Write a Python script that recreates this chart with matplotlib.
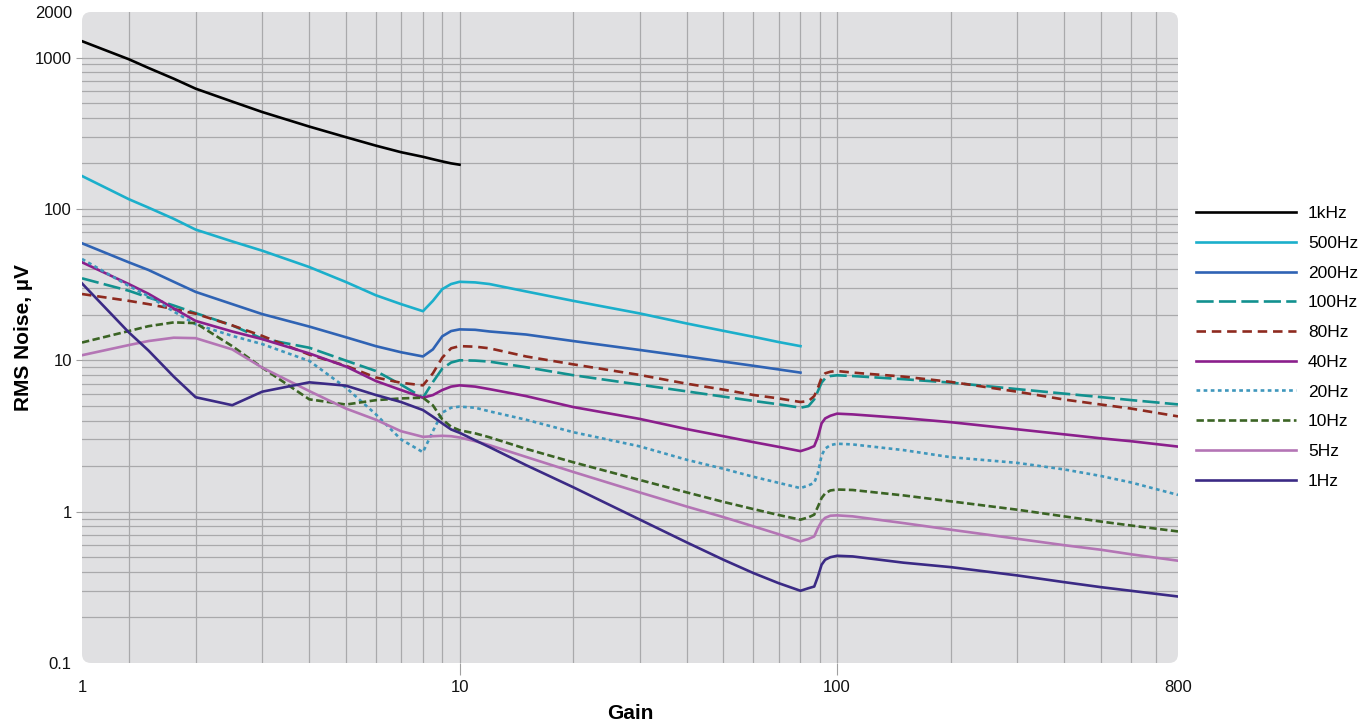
import numpy as np
import matplotlib
matplotlib.use("Agg")
import matplotlib.pyplot as plt
from matplotlib.patches import FancyBboxPatch
from matplotlib.ticker import FixedLocator, NullFormatter, FixedFormatter

plt.rcParams['font.family'] = ['Liberation Sans', 'DejaVu Sans']

nan = np.nan
gain = [1, 1.33, 1.5, 1.75, 2, 2.5, 3, 4, 5, 6, 7, 8, 8.5, 9, 9.5, 10, 11, 12, 15, 20, 30, 40,
        50, 60, 70, 80, 84, 87, 89, 91, 93, 96, 100, 110, 150, 200, 300, 400, 500, 600, 800]

noise_1k = [1283, 975, 854, 725, 623, 512, 437, 350, 298, 262, 237, 221, 213, 206, 200, 196] + [nan] * 25
noise_500 = [165, 116, 102, 86, 73, 61, 53, 41.3, 32.9, 26.9, 23.5, 21.1, 24.7, 29.5, 31.9, 33, 32.7,
             31.9, 28.5, 24.7, 20.4, 17.5, 15.65, 14.3, 13.2, 12.4] + [nan] * 15
noise_200 = [59.3, 44.4, 39.5, 33, 28.3, 23.5, 20.2, 16.7, 14.2, 12.4, 11.3, 10.6, 11.8, 14.4, 15.6, 16.0,
             15.9, 15.5, 14.8, 13.4, 11.7, 10.6, 9.8, 9.2, 8.7, 8.29] + [nan] * 15
noise_100 = [34.8, 28.8, 26, 23, 20.5, 17, 13.9, 12.1, 9.95, 8.5, 6.9, 5.66, 7.18, 8.81, 9.66, 10.0, 9.95,
             9.8, 9.0, 7.97, 6.9, 6.23, 5.75, 5.39, 5.12, 4.86, 4.98, 5.52, 6.26, 7.12, 7.60, 7.87, 7.96,
             7.87, 7.5, 7.12, 6.45, 6.02, 5.71, 5.46, 5.11]
noise_80 = [27.4, 24.7, 23.5, 21.8, 20.3, 17, 14.5, 10.9, 9.2, 7.7, 7.1, 6.83, 8.2, 10.4, 12.0, 12.4, 12.3,
            12.0, 10.6, 9.4, 8.0, 7.0, 6.4, 5.9, 5.6, 5.3, 5.38, 5.80, 6.59, 7.68, 8.2, 8.4, 8.49,
            8.29, 7.8, 7.2, 6.2, 5.5, 5.1, 4.8, 4.26]
noise_40 = [44.4, 31.9, 27.5, 22, 18.2, 15.5, 13.8, 11.1, 9.1, 7.3, 6.36, 5.66, 5.89, 6.36, 6.70, 6.83, 6.70,
            6.45, 5.8, 4.91, 4.1, 3.51, 3.15, 2.88, 2.68, 2.51, 2.61, 2.71, 3.12, 3.83, 4.13, 4.30, 4.44,
            4.39, 4.15, 3.90, 3.5, 3.24, 3.05, 2.92, 2.69]
noise_20 = [46.7, 31, 26.5, 21, 17.3, 14.5, 12.8, 9.9, 6.6, 4.4, 3.0, 2.47, 3.40, 4.51, 4.86, 4.94, 4.86,
            4.6, 4.05, 3.35, 2.7, 2.2, 1.92, 1.7, 1.55, 1.43, 1.49, 1.55, 1.80, 2.35, 2.61, 2.75, 2.81,
            2.78, 2.55, 2.29, 2.1, 1.9, 1.72, 1.56, 1.29]
noise_10 = [13.1, 15.6, 16.8, 17.8, 17.6, 12.4, 8.95, 5.52, 5.1, 5.45, 5.6, 5.66, 5.04, 4.07, 3.64, 3.45, 3.29,
            3.1, 2.6, 2.12, 1.62, 1.34, 1.16, 1.04, 0.95, 0.885, 0.917, 0.955, 1.08, 1.23, 1.32, 1.38, 1.40,
            1.39, 1.28, 1.17, 1.03, 0.93, 0.86, 0.81, 0.74]
noise_5 = [10.8, 12.6, 13.4, 14.1, 14.0, 11.8, 8.95, 6.26, 4.8, 4.05, 3.40, 3.12, 3.15, 3.17, 3.15, 3.09, 2.92,
           2.75, 2.3, 1.83, 1.34, 1.08, 0.92, 0.80, 0.71, 0.636, 0.66, 0.686, 0.78, 0.862, 0.91, 0.94, 0.945,
           0.931, 0.84, 0.76, 0.662, 0.60, 0.56, 0.523, 0.474]
noise_1 = [32.2, 15.3, 11.6, 7.8, 5.7, 5.05, 6.2, 7.15, 6.8, 5.9, 5.3, 4.69, 4.24, 3.83, 3.49, 3.32, 2.96,
           2.67, 2.03, 1.45, 0.887, 0.626, 0.481, 0.393, 0.337, 0.30, 0.312, 0.32, 0.373, 0.446, 0.481, 0.50, 0.511,
           0.506, 0.46, 0.43, 0.379, 0.342, 0.317, 0.30, 0.275]

labels = ["1kHz", "500Hz", "200Hz", "100Hz", "80Hz", "40Hz", "20Hz", "10Hz", "5Hz", "1Hz"]
series = [noise_1k, noise_500, noise_200, noise_100, noise_80, noise_40, noise_20, noise_10, noise_5, noise_1]
colors = ["#000000", "#1BAFCB", "#2F63B4", "#12918F", "#8E2A1F", "#8B1F8C", "#3F97BC", "#3B6424",
          "#B475B5", "#3B2A85"]
styles = ["-", "-", "-", (0, (6.5, 2.0)), (0, (3.6, 2.2)), "-", (0, (1.4, 1.3)), (0, (2.8, 1.3)), "-", "-"]

x_ticks = [1, 10, 100, 800]
y_ticks = [0.1, 1, 10, 100, 1000, 2000]
x_grid = [1.33, 2, 3, 4, 5, 6, 7, 8, 9, 20, 30, 40, 50, 60, 70, 80, 90, 200, 300, 400, 500, 600, 700]
y_grid = ([0.2, 0.3, 0.4, 0.5, 0.6, 0.7, 0.8, 0.9, 2, 3, 4, 5, 6, 7, 8, 9, 20, 30, 40, 50, 60, 70, 80, 90,
           200, 300, 400, 500, 600, 700, 800, 900])

W, H = 1369, 724
fig = plt.figure(figsize=(W / 100, H / 100), dpi=100)
L, R, T, B = 82, 1178, 12, 663
ax = fig.add_axes([L / W, (H - B) / H, (R - L) / W, (B - T) / H])

ax.set_xscale('log')
ax.set_yscale('log')
ax.set_xlim(1, 800)
ax.set_ylim(0.1, 2000)

ax.patch.set_visible(False)
rx = 9 / (R - L)
bg = FancyBboxPatch((0, 0), 1, 1, boxstyle=f"round,pad=0,rounding_size={rx}",
                    mutation_aspect=(R - L) / (B - T), transform=ax.transAxes,
                    facecolor="#E0E0E2", edgecolor="none", zorder=0.1)
ax.add_patch(bg)
for s in ax.spines.values():
    s.set_visible(False)

ax.xaxis.set_major_locator(FixedLocator(x_ticks))
ax.xaxis.set_major_formatter(FixedFormatter([str(v) for v in x_ticks]))
ax.xaxis.set_minor_locator(FixedLocator(x_grid))
ax.xaxis.set_minor_formatter(NullFormatter())
ax.yaxis.set_major_locator(FixedLocator(y_ticks))
ax.yaxis.set_major_formatter(FixedFormatter(["0.1", "1", "10", "100", "1000", "2000"]))
ax.yaxis.set_minor_locator(FixedLocator(y_grid))
ax.yaxis.set_minor_formatter(NullFormatter())

ax.tick_params(axis='both', which='minor', length=0)
ax.tick_params(axis='x', which='major', length=8.6, width=0.8, color="#A0A0A0", pad=4,
               labelsize=12, labelcolor="#111111")
ax.tick_params(axis='y', which='major', length=4.3, width=0.8, color="#A0A0A0", pad=3,
               labelsize=12, labelcolor="#111111")
ax.set_axisbelow(True)
ax.grid(True, which='both', color="#A9A9AB", linewidth=0.9)

fig.canvas.draw()
for t in ax.xaxis.get_major_ticks():
    if t.get_loc() in (1, 800):
        t.tick1line.set_visible(False)
        t.gridline.set_visible(False)
for t in ax.yaxis.get_major_ticks():
    if t.get_loc() in (0.1, 2000):
        t.tick1line.set_visible(False)
        t.gridline.set_visible(False)

g = np.array(gain, dtype=float)
for lab, vals, c, ls in zip(labels, series, colors, styles):
    ax.plot(g, np.array(vals, dtype=float), color=c, linestyle=ls, linewidth=1.9, label=lab, zorder=3)

ax.set_xlabel("Gain", fontsize=15, fontweight='bold', labelpad=6)
ax.set_ylabel("RMS Noise, \u00b5V", fontsize=15, fontweight='bold', labelpad=1.5)

leg = fig.legend(loc='upper left', bbox_to_anchor=(1196 / W, 1 - 206 / H), frameon=False,
                 fontsize=12.5, handlelength=5.75, handletextpad=0.69, labelspacing=0.84,
                 borderpad=0, borderaxespad=0)

fig.savefig("out.png", dpi=100)
